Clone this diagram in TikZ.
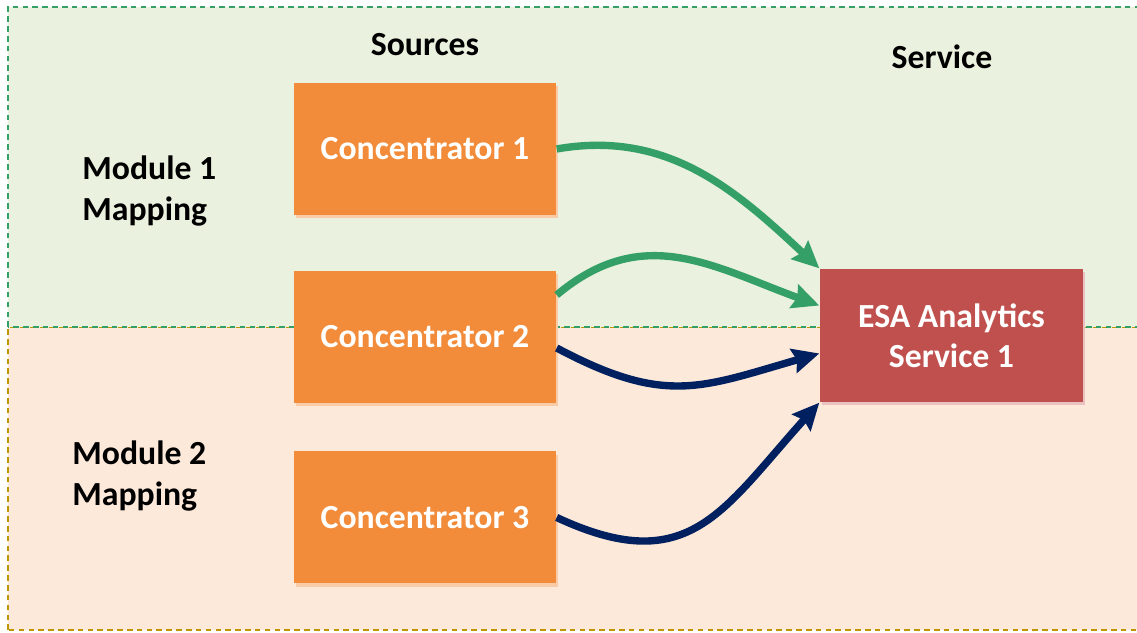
\documentclass[tikz,border=0pt]{standalone}
\usepackage{fontspec}
\setmainfont{Carlito}
\usepackage{xcolor}
\usepackage{tikz}
\usetikzlibrary{arrows.meta, positioning, shadows}
\definecolor{ESAGreen}{RGB}{52, 160, 104}
\definecolor{ESANavy}{RGB}{0, 32, 96}
\definecolor{ESAOrange}{RGB}{242, 140, 58}
\definecolor{ESARed}{RGB}{192, 80, 77}
\definecolor{ESAGreenBg}{RGB}{234, 241, 222}
\definecolor{ESAPeachBg}{RGB}{253, 233, 217}
\definecolor{ESAGold}{RGB}{191, 150, 0}

\tikzset{
  srcbox/.style={fill=ESAOrange, minimum width=26.2mm, minimum height=13.2mm,
    text=white, font=\fontsize{9.6}{11.5}\selectfont\bfseries,
    drop shadow={shadow xshift=0.2mm, shadow yshift=-0.35mm, fill=ESAOrange!45, opacity=1}},
  svcbox/.style={srcbox, fill=ESARed, align=center,
    drop shadow={shadow xshift=0.2mm, shadow yshift=-0.35mm, fill=ESARed!35, opacity=1}},
  heading/.style={font=\fontsize{9.6}{11.5}\selectfont\bfseries, align=left},
  flow/.style={line width=2.1pt, -{Stealth[length=7.6pt, width=7pt, inset=1pt]}},
  region/.style={dash pattern=on 1.6pt off 1.2pt, line width=0.8pt}
}

\begin{document}
\begin{tikzpicture}
  \useasboundingbox (0,0) rectangle (11.37,6.33);
  % module regions
  \draw[region, ESAGold, fill=ESAPeachBg] (0.08,0.03) rectangle (11.45,3.06);
  \draw[region, ESAGreen, fill=ESAGreenBg] (0.08,3.06) rectangle (11.45,6.26);

  \node[heading] (sources) at (4.25,5.88) {Sources};
  \node[heading] (service) at (9.42,5.76) {Service};
  \node[heading, anchor=west] (mod1) at (0.70,4.42) {Module 1\\Mapping};
  \node[heading, anchor=west] (mod2) at (0.60,1.57) {Module 2\\Mapping};

  \node[srcbox] (conc1) at (4.25,4.84) {Concentrator 1};
  \node[srcbox] (conc2) at (4.25,2.96) {Concentrator 2};
  \node[srcbox] (conc3) at (4.25,1.155) {Concentrator 3};
  \node[svcbox, minimum width=26.3mm, minimum height=13.3mm] (esa) at (9.515,2.975) {ESA Analytics\\Service 1};

  % module 1
  \draw[flow, ESAGreen] (conc1.east) to[out=10, in=137] (esa.north west);
  \draw[flow, ESAGreen] ([yshift=4.2mm]conc2.east) to[out=40, in=160, looseness=1.1] ([yshift=3mm]esa.west);
  % module 2
  \draw[flow, ESANavy] ([yshift=-1.1mm]conc2.east) to[out=-28, in=196, looseness=1.2] ([yshift=-1.8mm]esa.west);
  \draw[flow, ESANavy] (conc3.east) to[out=-25, in=228, looseness=1.3] (esa.south west);
\end{tikzpicture}
\end{document}
